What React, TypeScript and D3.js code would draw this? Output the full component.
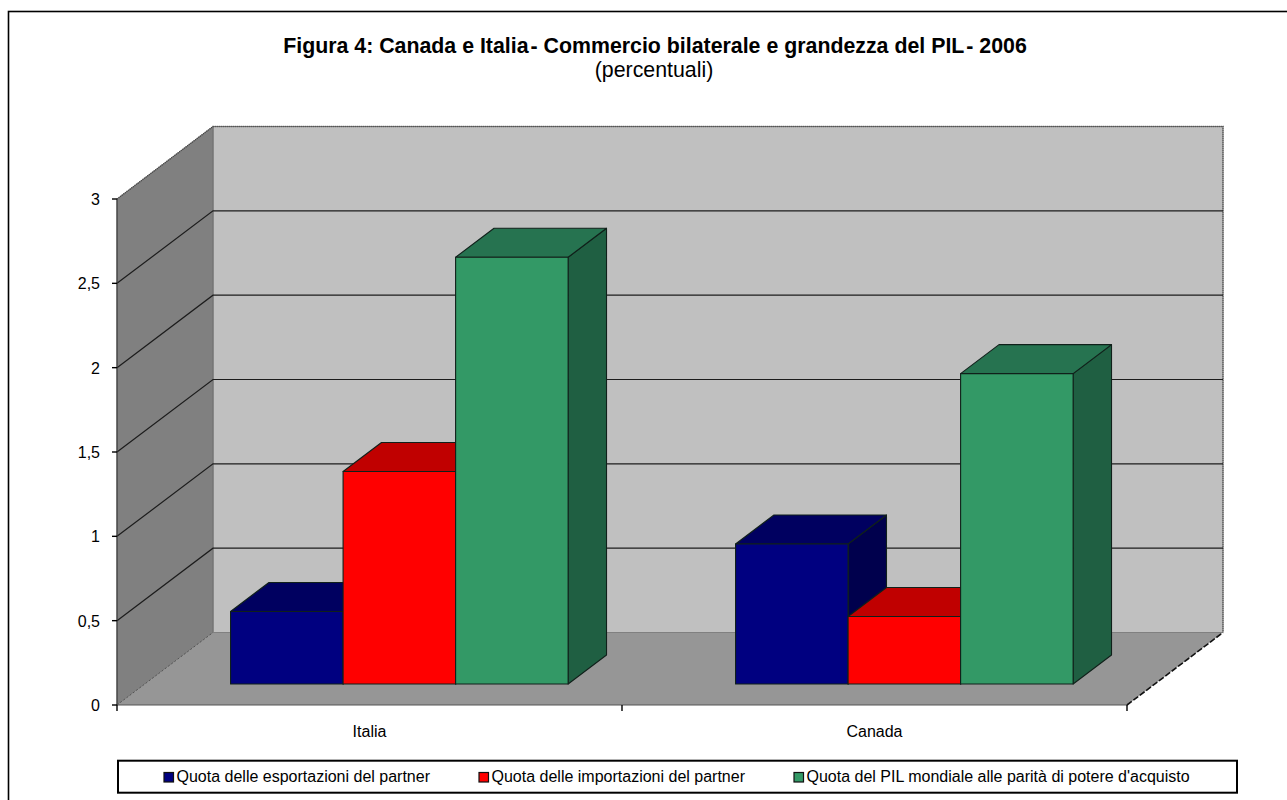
import React from "react";
import * as d3 from "d3";

const categories = ["Italia", "Canada"];
const seriesNames = [
  "Quota delle esportazioni del partner",
  "Quota delle importazioni del partner",
  "Quota del PIL mondiale alle parità di potere d'acquisto",
];
const exportsShare = [0.43, 0.83];
const importsShare = [1.26, 0.4];
const gdpShare = [2.53, 1.84];
const yTicks = [0, 0.5, 1, 1.5, 2, 2.5, 3];
const yTickLabels = ["0", "0,5", "1", "1,5", "2", "2,5", "3"];

const frontColors = ["#000080", "#ff0000", "#339966"];
const topColors = ["#000060", "#c00000", "#267350"];
const sideColors = ["#00004d", "#990000", "#1f5f42"];

const FONT = "'Liberation Sans', Arial, sans-serif";
const DEPTH_X = 96;
const DEPTH_Y = -72.5;

const yScale = d3.scaleLinear().domain([0, 3]).range([705, 199]);
const xScale = d3.scaleBand<string>().domain(categories).range([117, 1127]);
const seriesScale = d3
  .scaleBand<number>()
  .domain([0, 1, 2])
  .range([2, xScale.bandwidth() + 2])
  .paddingOuter(0.744)
  .paddingInner(0);

// Oblique projection: x, value and a 0..1 depth into the chart box.
const px = (x: number, d: number) => x + DEPTH_X * d;
const py = (v: number, d: number) => yScale(v) + DEPTH_Y * d;
const poly = (pts: [number, number][]) => d3.line()(pts) + "Z";

const barNear = 0.29;
const barFar = 0.69;

type Face = { d: string; fill: string };

function barFaces(cat: string, s: number, v: number) {
  const x0 = (xScale(cat) as number) + (seriesScale(s) as number);
  const x1 = x0 + seriesScale.bandwidth();
  const front: Face = {
    d: poly([
      [px(x0, barNear), py(0, barNear)],
      [px(x1, barNear), py(0, barNear)],
      [px(x1, barNear), py(v, barNear)],
      [px(x0, barNear), py(v, barNear)],
    ]),
    fill: frontColors[s],
  };
  const top: Face = {
    d: poly([
      [px(x0, barNear), py(v, barNear)],
      [px(x1, barNear), py(v, barNear)],
      [px(x1, barFar), py(v, barFar)],
      [px(x0, barFar), py(v, barFar)],
    ]),
    fill: topColors[s],
  };
  const side: Face = {
    d: poly([
      [px(x1, barNear), py(0, barNear)],
      [px(x1, barFar), py(0, barFar)],
      [px(x1, barFar), py(v, barFar)],
      [px(x1, barNear), py(v, barNear)],
    ]),
    fill: sideColors[s],
  };
  return [side, top, front];
}

export default function App() {
  const series = [exportsShare, importsShare, gdpShare];
  const [xl, xr] = xScale.range();
  const legendSwatchX = [164, 479, 794];

  return (
    <svg
      width={1287}
      height={800}
      style={{ position: "absolute", left: 0, top: 0, background: "#fff" }}
      fontFamily={FONT}
    >
      {/* Outer frame runs past the right and bottom edges of the page */}
      <rect x={8.5} y={11.5} width={1300} height={820} fill="#fff" stroke="#000" strokeWidth={1.6} />

      <text x={655} y={53} textAnchor="middle" fontSize={21.33} fontWeight={700} fill="#000">
        <tspan>Figura 4: Canada e Italia</tspan>
        <tspan dx={2}>- Commercio bilaterale e grandezza del PIL</tspan>
        <tspan dx={2}>- 2006</tspan>
      </text>
      <text x={654} y={77} textAnchor="middle" fontSize={21.33} fill="#000">
        (percentuali)
      </text>

      {/* Back wall */}
      <path
        d={poly([
          [px(xl, 1), py(3, 1)],
          [px(xr, 1), py(3, 1)],
          [px(xr, 1), py(0, 1)],
          [px(xl, 1), py(0, 1)],
        ])}
        fill="#c0c0c0"
        stroke="#808080"
        strokeWidth={1}
      />
      {/* Side wall */}
      <path
        d={poly([
          [px(xl, 0), py(3, 0)],
          [px(xl, 1), py(3, 1)],
          [px(xl, 1), py(0, 1)],
          [px(xl, 0), py(0, 0)],
        ])}
        fill="#808080"
        stroke="#6e6e6e"
        strokeWidth={1}
      />
      {/* Floor */}
      <path
        d={poly([
          [px(xl, 0), py(0, 0)],
          [px(xr, 0), py(0, 0)],
          [px(xr, 1), py(0, 1)],
          [px(xl, 1), py(0, 1)],
        ])}
        fill="#969696"
      />
      <line x1={px(xl, 0)} x2={px(xr, 0)} y1={yScale(0)} y2={yScale(0)} stroke="#555" strokeWidth={1} />
      <line x1={px(xr, 0)} x2={px(xr, 1)} y1={py(0, 0)} y2={py(0, 1)} stroke="#111" strokeWidth={1.6} strokeDasharray="6 2" />
      <line x1={px(xl, 0)} x2={px(xl, 1)} y1={py(0, 0)} y2={py(0, 1)} stroke="#555" strokeWidth={1} strokeDasharray="2 2" />
      <line x1={px(xl, 1)} x2={px(xr, 1)} y1={py(0, 1)} y2={py(0, 1)} stroke="#808080" strokeWidth={1} />
      {/* Dotted outer edges of the chart box */}
      <path
        d={d3.line()([
          [px(xl, 0), py(3, 0)],
          [px(xl, 1), py(3, 1)],
          [px(xr, 1), py(3, 1)],
          [px(xr, 1), py(0, 1)],
        ]) as string}
        fill="none"
        stroke="#444"
        strokeWidth={1.4}
        strokeDasharray="1 1"
      />

      {/* Gridlines run along the side wall and across the back wall */}
      {yTicks
        .filter((t) => t > 0 && t < 3)
        .map((t) => (
          <path
            key={t}
            d={d3.line()([
              [px(xl, 0), py(t, 0)],
              [px(xl, 1), py(t, 1)],
              [px(xr, 1), py(t, 1)],
            ]) as string}
            fill="none"
            stroke="#1c1c1c"
            strokeWidth={1.2}
          />
        ))}

      {/* Value axis */}
      <line x1={xl} x2={xl} y1={yScale(3)} y2={yScale(0)} stroke="#333" strokeWidth={1} />
      {yTicks.map((t, i) => (
        <g key={t}>
          <line x1={xl - 5} x2={xl} y1={yScale(t)} y2={yScale(t)} stroke="#000" strokeWidth={1.4} />
          <text x={xl - 17} y={yScale(t) + 6} textAnchor="end" fontSize={16} fill="#000">
            {yTickLabels[i]}
          </text>
        </g>
      ))}

      {/* Category axis */}
      {[xl, xl + xScale.bandwidth(), xr].map((x) => (
        <line key={x} x1={x} x2={x} y1={yScale(0)} y2={yScale(0) + 6} stroke="#000" strokeWidth={1.4} />
      ))}
      {categories.map((c) => (
        <text
          key={c}
          x={(xScale(c) as number) + xScale.bandwidth() / 2}
          y={737}
          textAnchor="middle"
          fontSize={16}
          fill="#000"
        >
          {c}
        </text>
      ))}

      {/* Bars, drawn back to front within each category */}
      {categories.map((c, ci) =>
        series.map((vals, s) =>
          barFaces(c, s, vals[ci]).map((f, k) => (
            <path
              key={`${c}-${s}-${k}`}
              d={f.d}
              fill={f.fill}
              stroke="#10201a"
              strokeWidth={1.1}
              strokeLinejoin="round"
            />
          ))
        )
      )}

      {/* Legend */}
      <rect x={118} y={760.7} width={1119} height={32} fill="#fff" stroke="#000" strokeWidth={2} />
      {seriesNames.map((name, i) => (
        <g key={name}>
          <rect x={legendSwatchX[i]} y={772.5} width={9.5} height={9.5} fill={frontColors[i]} stroke="#111" strokeWidth={1.2} />
          <text x={legendSwatchX[i] + 12.5} y={782} fontSize={16} fill="#000">
            {name}
          </text>
        </g>
      ))}
    </svg>
  );
}
